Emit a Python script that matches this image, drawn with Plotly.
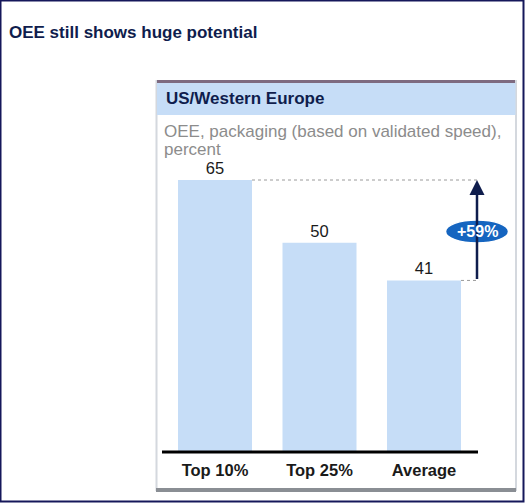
import plotly.graph_objects as go

categories = ["Top 10%", "Top 25%", "Average"]
oee_values = [65, 50, 41]
gap_label = "+59%"
title_text = "OEE still shows huge potential"
panel_header = "US/Western Europe"
subtitle_lines = ["OEE, packaging (based on validated speed),", "percent"]

W, H = 525, 503
NAVY = "#0f1d4d"
FONT = "Liberation Sans, Arial, sans-serif"

def px(x):
    return x / W

def py(y):
    return 1 - y / H

# axis geometry (pixels)
x_left, x_right = 160, 514
line_x_left, line_x_right = 162, 478
y_base = 452
y_dom_bottom = 458
px_per_unit = 104.5
c0 = 215
r0 = (x_left - c0) / px_per_unit
r1 = (x_right - c0) / px_per_unit
y_top_px = 159
yscale = (y_base - 180) / 65.0
ymax = (y_base - y_top_px) / yscale
ymin = -(y_dom_bottom - y_base) / yscale

fig = go.Figure()
fig.add_trace(go.Bar(
    x=list(range(len(categories))), y=oee_values,
    marker=dict(color="#c6ddf7", line=dict(width=0)),
    width=74 / px_per_unit,
    text=[str(v) for v in oee_values], textposition="outside",
    textfont=dict(family=FONT, size=16.5, color="#1a1a1a"),
    cliponaxis=False, hoverinfo="skip",
))

shapes = []
# outer frame
shapes.append(dict(type="rect", xref="paper", yref="paper", x0=px(0.5), x1=px(523.5), y0=py(501.5), y1=py(0.5),
                   line=dict(color="#15175a", width=2), fillcolor="rgba(0,0,0,0)", layer="below"))
# panel background & border
shapes.append(dict(type="rect", xref="paper", yref="paper", x0=px(156.5), x1=px(516), y0=py(490), y1=py(81),
                   line=dict(color="#d4d8de", width=2), fillcolor="white", layer="below"))
# header band
shapes.append(dict(type="rect", xref="paper", yref="paper", x0=px(157), x1=px(515.5), y0=py(115), y1=py(83),
                   line=dict(width=0), fillcolor="#c6ddf7", layer="below"))
# top mauve line
shapes.append(dict(type="line", xref="paper", yref="paper", x0=px(157), x1=px(515), y0=py(81.5), y1=py(81.5),
                   line=dict(color="#7d6a80", width=3), layer="below"))
# bottom gray line
shapes.append(dict(type="line", xref="paper", yref="paper", x0=px(156), x1=px(516), y0=py(490), y1=py(490),
                   line=dict(color="#8a8e94", width=4), layer="below"))

# baseline
shapes.append(dict(type="line", xref="x", yref="y",
                   x0=(line_x_left - c0) / px_per_unit, x1=(line_x_right - c0) / px_per_unit,
                   y0=0, y1=0, line=dict(color="black", width=3)))

arrow_x = (477 - c0) / px_per_unit
half_bar = 37 / px_per_unit
# dotted guide lines
shapes.append(dict(type="line", xref="x", yref="y", x0=0 + half_bar, x1=arrow_x + 0.02,
                   y0=oee_values[0], y1=oee_values[0], line=dict(color="#9a9a9a", width=1, dash="dot")))
shapes.append(dict(type="line", xref="x", yref="y", x0=2 + half_bar, x1=arrow_x + 0.02,
                   y0=oee_values[2], y1=oee_values[2], line=dict(color="#9a9a9a", width=1, dash="dot")))
# ellipse
ell_cy = (oee_values[0] + oee_values[2]) / 2 - 0.3
ew = 31.5 / px_per_unit
eh = 11.5 / yscale
shapes.append(dict(type="circle", xref="x", yref="y", x0=arrow_x - ew, x1=arrow_x + ew,
                   y0=ell_cy - eh, y1=ell_cy + eh, fillcolor="#1565c0", line=dict(color="white", width=1.5)))

annotations = [
    dict(xref="paper", yref="paper", x=px(7), y=py(32), text="<b>" + title_text + "</b>", showarrow=False,
         xanchor="left", yanchor="middle", font=dict(family=FONT, size=17, color=NAVY)),
    dict(xref="paper", yref="paper", x=px(164), y=py(99), text="<b>" + panel_header + "</b>", showarrow=False,
         xanchor="left", yanchor="middle", font=dict(family=FONT, size=17, color=NAVY)),
    dict(xref="x", yref="y", axref="x", ayref="y", x=arrow_x, y=oee_values[0], ax=arrow_x, ay=oee_values[2],
         showarrow=True, arrowhead=2, arrowsize=1.2, arrowwidth=2.5, arrowcolor=NAVY, text="", standoff=0),
    dict(xref="x", yref="y", x=arrow_x, y=ell_cy, text="<b>" + gap_label + "</b>", showarrow=False,
         font=dict(family=FONT, size=16, color="white")),
]
for i, line in enumerate(subtitle_lines):
    annotations.append(dict(xref="paper", yref="paper", x=px(162), y=py(131 + 18 * i), text=line,
                            showarrow=False, xanchor="left", yanchor="middle",
                            font=dict(family=FONT, size=17, color="#8c8c8c")))

fig.update_layout(
    width=W, height=H, margin=dict(l=0, r=0, t=0, b=0),
    paper_bgcolor="white", plot_bgcolor="rgba(0,0,0,0)",
    showlegend=False, shapes=shapes, annotations=annotations,
    xaxis=dict(domain=[px(x_left), px(x_right)], range=[r0, r1],
               tickmode="array", tickvals=list(range(len(categories))),
               ticktext=["<b>" + c + "</b>" for c in categories],
               tickfont=dict(family=FONT, size=16.5, color="#1a1a1a"),
               showline=False, showgrid=False, zeroline=False,
               ticks="", ticklen=0),
    yaxis=dict(domain=[py(y_dom_bottom), py(y_top_px)], range=[ymin, ymax], visible=False, showgrid=False),
)

fig.write_html("out.html", config={"displayModeBar": False},
               post_script="document.body.style.margin='0';document.body.style.overflow='hidden';")
